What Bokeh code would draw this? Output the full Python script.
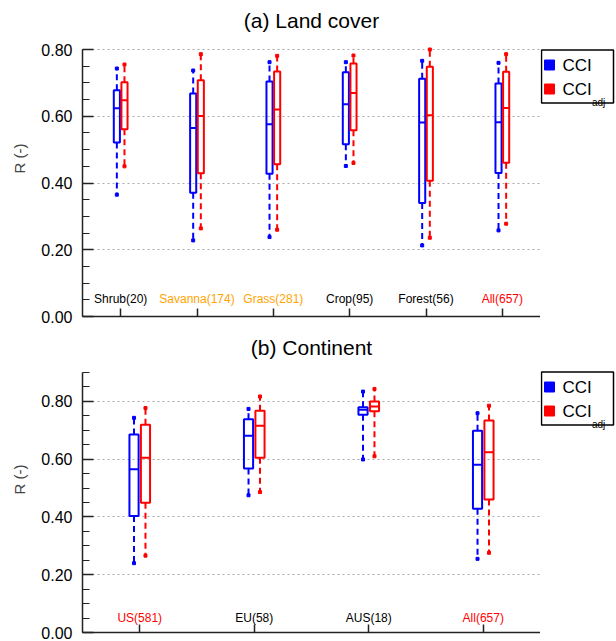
from bokeh.plotting import figure
from bokeh.models import (FactorRange, Range1d, FixedTicker, NumeralTickFormatter, LinearAxis,
                          ColumnDataSource)
from bokeh.core.properties import value
from bokeh.transform import dodge
from bokeh.layouts import column, row
from bokeh.embed import file_html
from bokeh.resources import INLINE

# ---------------- data: (a) Land cover ----------------
lc_categories = ["Shrub(20)", "Savanna(174)", "Grass(281)", "Crop(95)", "Forest(56)", "All(657)"]
cci_lc_min = [0.365, 0.228, 0.238, 0.451, 0.213, 0.258]
cci_lc_q1 = [0.521, 0.371, 0.428, 0.516, 0.340, 0.430]
cci_lc_med = [0.624, 0.565, 0.576, 0.636, 0.581, 0.582]
cci_lc_q3 = [0.678, 0.668, 0.704, 0.732, 0.712, 0.698]
cci_lc_max = [0.743, 0.737, 0.762, 0.762, 0.766, 0.760]
adj_lc_min = [0.450, 0.264, 0.260, 0.460, 0.236, 0.278]
adj_lc_q1 = [0.561, 0.429, 0.456, 0.558, 0.407, 0.461]
adj_lc_med = [0.648, 0.601, 0.620, 0.670, 0.603, 0.625]
adj_lc_q3 = [0.702, 0.708, 0.734, 0.758, 0.748, 0.733]
adj_lc_max = [0.755, 0.786, 0.781, 0.782, 0.800, 0.786]

# ---------------- data: (b) Continent ----------------
ct_categories = ["US(581)", "EU(58)", "AUS(18)", "All(657)"]
cci_ct_min = [0.240, 0.475, 0.599, 0.255]
cci_ct_q1 = [0.403, 0.568, 0.754, 0.428]
cci_ct_med = [0.565, 0.681, 0.771, 0.581]
cci_ct_q3 = [0.685, 0.738, 0.780, 0.698]
cci_ct_max = [0.743, 0.774, 0.834, 0.759]
adj_ct_min = [0.266, 0.486, 0.610, 0.276]
adj_ct_q1 = [0.449, 0.605, 0.766, 0.460]
adj_ct_med = [0.605, 0.716, 0.782, 0.624]
adj_ct_q3 = [0.719, 0.768, 0.800, 0.734]
adj_ct_max = [0.777, 0.817, 0.843, 0.785]

y_major = [0.0, 0.2, 0.4, 0.6, 0.8]
series_names = ["CCI", "CCI"]
series_subscripts = ["", "adj"]

# styles
lc_label_colors = ["black", "#ffa500", "#ffa500", "black", "black", "red"]
ct_label_colors = ["red", "black", "black", "red"]
FONT = "Liberation Sans"
BLUE = "#0000ff"
RED = "#ff0000"
AXIS_COLOR = "#222222"


def make_legend(height, frame_h, top_off):
    """Side figure holding the legend box. Its frame is aligned with the panel's frame;
    coordinates are pixels from the frame bottom."""
    lg = figure(width=76, height=height, x_range=Range1d(0, 76), y_range=Range1d(0, frame_h),
                output_backend="svg", toolbar_location=None, min_border=0,
                x_axis_location=None, y_axis_location=None, title_location=None)
    lg.outline_line_color = None
    lg.xgrid.grid_line_color = None
    lg.ygrid.grid_line_color = None
    ytop = frame_h - top_off
    lg.rect(x=[37], y=[ytop - 26.5], width=[72], height=[53], fill_color="white",
            line_color="black", line_width=1.5)
    rows_y = [ytop - 15, ytop - 39]
    lg.scatter(x=[9, 9], y=rows_y, marker="square", size=10, color=[BLUE, RED])
    lg.text(x=[22, 22], y=rows_y, text=series_names, text_font=value(FONT),
            text_font_size="17px", text_baseline="middle", text_align="left")
    lg.text(x=[51.5], y=[ytop - 52], text=[series_subscripts[1]], text_font=value(FONT),
            text_font_size="10px", text_baseline="alphabetic", text_align="left")
    return lg


def make_panel(title, cats, label_colors, cci, adj, ymax, height, bottom_border, px_per_unit,
               title_px):
    frame_h = height - bottom_border
    ytop_view = frame_h / px_per_unit
    p = figure(width=540, height=height, x_range=FactorRange(*cats, range_padding=0),
               y_range=Range1d(0, ytop_view), output_backend="svg", toolbar_location=None,
               min_border_left=82, min_border_right=0, min_border_top=0,
               min_border_bottom=bottom_border, x_axis_location=None, title_location=None)
    p.outline_line_color = None
    p.xgrid.grid_line_color = None
    p.ygrid.ticker = FixedTicker(ticks=[0.2, 0.4, 0.6, 0.8])
    p.ygrid.grid_line_color = "#aaaaaa"
    p.ygrid.grid_line_dash = "2 3"
    p.ygrid.grid_line_width = 1

    minors = [round(0.05 * i, 2) for i in range(int(round(ymax / 0.05)) + 1)]
    yax = p.yaxis[0]
    yax.bounds = (0, ymax)
    yax.ticker = FixedTicker(ticks=y_major, minor_ticks=minors)
    yax.formatter = NumeralTickFormatter(format="0.00")
    yax.major_tick_in = 11
    yax.major_tick_out = 0
    yax.minor_tick_in = 7
    yax.minor_tick_out = 0
    yax.major_label_text_font = FONT
    yax.major_label_text_font_size = "16px"
    yax.major_label_text_color = "black"
    yax.major_label_standoff = 10
    yax.axis_label = "R (-)"
    yax.axis_label_text_font = FONT
    yax.axis_label_text_font_size = "15px"
    yax.axis_label_text_font_style = "normal"
    yax.axis_label_standoff = 10
    yax.axis_line_width = 1.5
    yax.axis_line_color = AXIS_COLOR
    yax.major_tick_line_color = AXIS_COLOR
    yax.minor_tick_line_color = AXIS_COLOR
    yax.major_tick_line_width = 1.5

    # bottom axis: ticks at category centres, no tick labels (labels are drawn in the plot)
    centers = [i + 0.5 for i in range(len(cats))]
    xax = LinearAxis(ticker=FixedTicker(ticks=[], minor_ticks=centers))
    xax.minor_tick_in = 8
    xax.minor_tick_out = 0
    xax.minor_tick_line_width = 1.5
    xax.minor_tick_line_color = AXIS_COLOR
    xax.axis_line_width = 1.5
    xax.axis_line_color = AXIS_COLOR
    xax.major_label_standoff = 0
    p.add_layout(xax, "below")

    for (mn, q1, md, q3, mx), off, col in ((cci, -0.05, BLUE), (adj, 0.05, RED)):
        src = ColumnDataSource(dict(cat=cats, mn=mn, q1=q1, md=md, q3=q3, mx=mx))
        xc = dodge("cat", off, range=p.x_range)
        xl = dodge("cat", off - 0.04, range=p.x_range)
        xr = dodge("cat", off + 0.04, range=p.x_range)
        p.segment(x0=xc, y0="q3", x1=xc, y1="mx", source=src, line_color=col,
                  line_width=2, line_dash="6 4")
        p.segment(x0=xc, y0="q1", x1=xc, y1="mn", source=src, line_color=col,
                  line_width=2, line_dash="6 4")
        p.scatter(x=xc, y="mx", source=src, marker="square", size=3, color=col)
        p.scatter(x=xc, y="mn", source=src, marker="square", size=3, color=col)
        p.vbar(x=xc, width=0.08, top="q3", bottom="q1", source=src, fill_color=None,
               line_color=col, line_width=2)
        p.segment(x0=xl, y0="md", x1=xr, y1="md", source=src, line_color=col, line_width=2)

    label_y = 0.053 if ymax < 0.85 else 0.05
    lsrc = ColumnDataSource(dict(cat=cats, color=label_colors, y=[label_y] * len(cats)))
    p.text(x="cat", y="y", text="cat", source=lsrc, text_color="color",
           text_font=value(FONT), text_font_size="12px", text_align="center",
           text_baseline="middle")

    # panel title, centred over the plotting area
    p.text(x=[len(cats) / 2], y=[(frame_h - title_px) / px_per_unit], text=[title],
           text_font=value(FONT), text_font_size="21px", text_align="center",
           text_baseline="middle", text_color="black")
    return p, frame_h


H1, H2 = 326, 315
p1, fh1 = make_panel("(a) Land cover", lc_categories, lc_label_colors,
                     (cci_lc_min, cci_lc_q1, cci_lc_med, cci_lc_q3, cci_lc_max),
                     (adj_lc_min, adj_lc_q1, adj_lc_med, adj_lc_q3, adj_lc_max),
                     0.8, H1, 10, 267 / 0.8, 20)
p2, fh2 = make_panel("(b) Continent", ct_categories, ct_label_colors,
                     (cci_ct_min, cci_ct_q1, cci_ct_med, cci_ct_q3, cci_ct_max),
                     (adj_ct_min, adj_ct_q1, adj_ct_med, adj_ct_q3, adj_ct_max),
                     0.9, H2, 9, 260 / 0.9, 21)
l1 = make_legend(H1, fh1, 49.5)
l2 = make_legend(H2, fh2, 45.5)

layout = column(row(p1, l1, spacing=0), row(p2, l2, spacing=0), spacing=0)
open("out.html", "w").write(file_html(layout, INLINE))
